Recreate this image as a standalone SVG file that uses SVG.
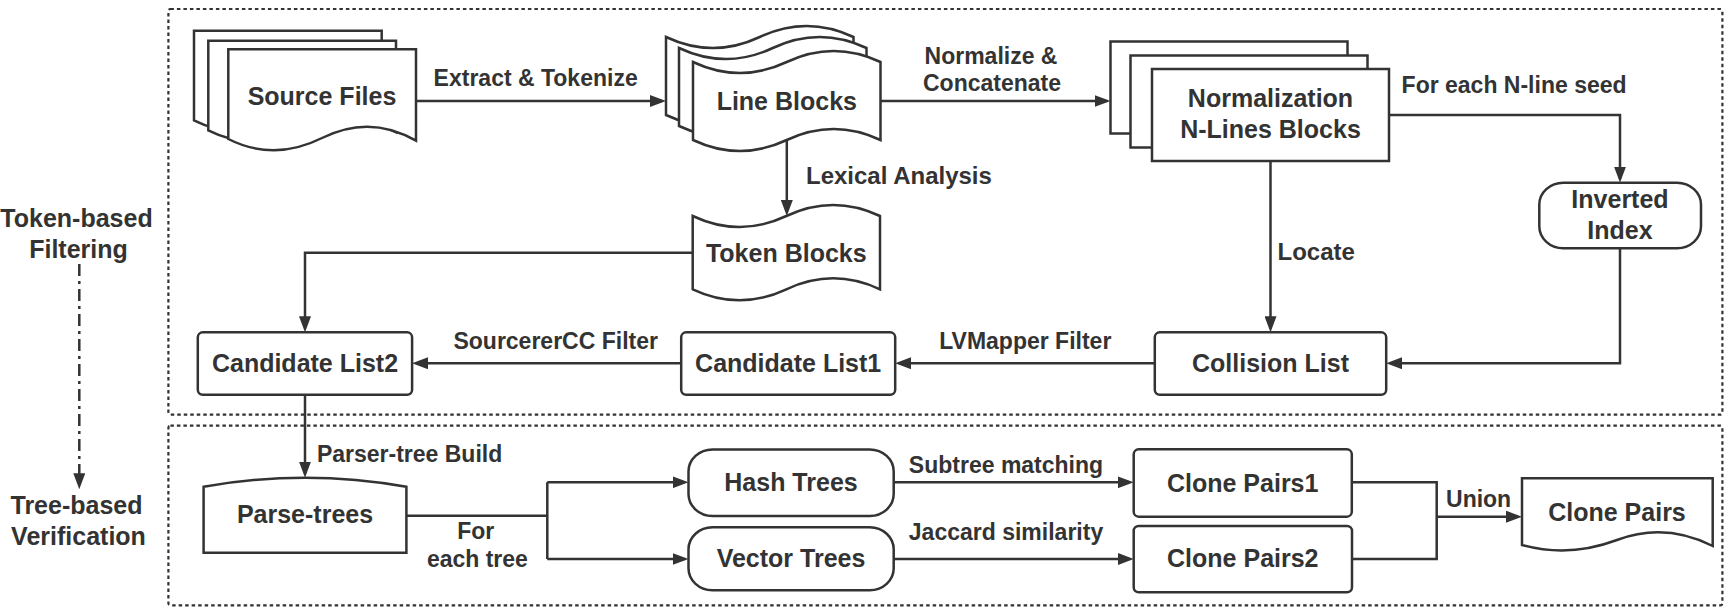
<svg xmlns="http://www.w3.org/2000/svg" width="1726" height="615" viewBox="0 0 1726 615">
<style>
.n{fill:#fff;stroke:#333;stroke-width:2.5;stroke-linejoin:miter}
.t{font-family:"Liberation Sans",Arial,sans-serif;font-weight:bold;font-size:25px;fill:#333;text-anchor:middle}
.e{font-family:"Liberation Sans",Arial,sans-serif;font-weight:bold;font-size:23px;fill:#333}
.m{text-anchor:middle}
.c{fill:none;stroke:#333;stroke-width:2.5}
.a{marker-end:url(#ah)}
.b{fill:none;stroke:#333;stroke-width:2.2;stroke-dasharray:3.5 3}
</style>
<defs>
<marker id="ah" markerUnits="userSpaceOnUse" markerWidth="16" markerHeight="12" refX="12" refY="6" orient="auto" viewBox="0 0 16 12">
<path d="M0,0 L16,6 L0,12 Z" fill="#333"/>
</marker>
</defs>
<rect width="1726" height="615" fill="#fff"/>

<g id="boundaries">
<rect class="b" x="168.4" y="9" width="1554" height="405.7" rx="2"/>
<rect class="b" x="168.4" y="425.7" width="1554" height="179.6" rx="2"/>
</g>

<g id="stage-labels">
<text class="t" x="76.5" y="227">Token-based</text>
<text class="t" x="78.5" y="258">Filtering</text>
<text class="t" x="76.5" y="514.3">Tree-based</text>
<text class="t" x="78.5" y="545">Verification</text>
</g>

<g id="source-files">
<path class="n" transform="translate(-34.3,-18.6)" d="M228.3,49.3 H416 V140.7 Q370,114 322,138 Q274,162 228.3,139 Z"/>
<path class="n" transform="translate(-20,-8.6)" d="M228.3,49.3 H416 V140.7 Q370,114 322,138 Q274,162 228.3,139 Z"/>
<path class="n" d="M228.3,49.3 H416 V140.7 Q370,114 322,138 Q274,162 228.3,139 Z"/>
<text class="t" x="322" y="105">Source Files</text>
</g>

<g id="line-blocks">
<path class="n" transform="translate(-27,-25)" d="M693,62 Q739.9,84 786.75,62 Q833.6,40 880.5,62 V140 Q833.6,118 786.75,140 Q739.9,162 693,140 Z"/>
<path class="n" transform="translate(-14,-14)" d="M693,62 Q739.9,84 786.75,62 Q833.6,40 880.5,62 V140 Q833.6,118 786.75,140 Q739.9,162 693,140 Z"/>
<path class="n" d="M693,62 Q739.9,84 786.75,62 Q833.6,40 880.5,62 V140 Q833.6,118 786.75,140 Q739.9,162 693,140 Z"/>
<text class="t" x="786.8" y="109.5">Line Blocks</text>
</g>

<g id="nlines-blocks">
<rect class="n" x="1110.5" y="41.5" width="237" height="92"/>
<rect class="n" x="1130.5" y="55.5" width="237" height="92"/>
<rect class="n" x="1152" y="69" width="237" height="92"/>
<text class="t" x="1270.5" y="107.3">Normalization</text>
<text class="t" x="1270.5" y="137.7">N-Lines Blocks</text>
</g>

<g id="inverted-index">
<rect class="n" x="1539.3" y="182.7" width="161.7" height="65.6" rx="24" ry="22"/>
<text class="t" x="1620" y="208.3">Inverted</text>
<text class="t" x="1620" y="239.3">Index</text>
</g>

<g id="token-blocks">
<path class="n" d="M692.7,216 Q739.5,238 786.35,216 Q833.2,194 880,216 V289.3 Q833.2,267.3 786.35,289.3 Q739.5,311.3 692.7,289.3 Z"/>
<text class="t" x="786.3" y="261.5">Token Blocks</text>
</g>

<g id="collision-list">
<rect class="n" x="1154.8" y="332.3" width="231.4" height="62.5" rx="5"/>
<text class="t" x="1270.5" y="371.7">Collision List</text>
</g>

<g id="candidate-list1">
<rect class="n" x="681.2" y="332.3" width="214" height="62.5" rx="5"/>
<text class="t" x="788.2" y="371.7">Candidate List1</text>
</g>

<g id="candidate-list2">
<rect class="n" x="197.8" y="332.3" width="214.3" height="62.5" rx="5"/>
<text class="t" x="305" y="371.7">Candidate List2</text>
</g>

<g id="parse-trees">
<path class="n" d="M203.6,552.7 V486.7 Q305,468.7 406.4,486.7 V552.7 Z"/>
<text class="t" x="305" y="523.3">Parse-trees</text>
</g>

<g id="hash-trees">
<rect class="n" x="688.5" y="449.5" width="205.2" height="66.5" rx="24" ry="22"/>
<text class="t" x="791" y="490.7">Hash Trees</text>
</g>

<g id="vector-trees">
<rect class="n" x="688.5" y="527.3" width="205.2" height="63" rx="24" ry="22"/>
<text class="t" x="791" y="566.7">Vector Trees</text>
</g>

<g id="clone-pairs1">
<rect class="n" x="1133.7" y="449.3" width="218.1" height="67.4" rx="5"/>
<text class="t" x="1242.7" y="491.7">Clone Pairs1</text>
</g>

<g id="clone-pairs2">
<rect class="n" x="1133.7" y="526" width="218.3" height="66.3" rx="5"/>
<text class="t" x="1242.8" y="566.7">Clone Pairs2</text>
</g>

<g id="clone-pairs">
<path class="n" d="M1522,478.3 H1712.7 V546 Q1665,522 1617,540 Q1569,558 1522,545 Z"/>
<text class="t" x="1617" y="520.7">Clone Pairs</text>
</g>

<g id="connectors">
<path class="c a" d="M416,101 H662"/>
<path class="c a" d="M880.5,101 H1106.5"/>
<path class="c a" d="M1389,115 H1620 V178.7"/>
<path class="c a" d="M786.8,140 V212"/>
<path class="c a" d="M1270.5,161 V328.3"/>
<path class="c a" d="M1620,248.3 V363.3 H1390.2"/>
<path class="c a" d="M1154.8,363.3 H899.2"/>
<path class="c a" d="M681.2,363.3 H416.1"/>
<path class="c a" d="M692.7,252.7 H305 V328.3"/>
<path class="c a" d="M305,395 V473.7"/>
<path class="c" d="M406.4,515.7 H547.3 M547.3,482.3 V559"/>
<path class="c a" d="M547.3,482.3 H684.5"/>
<path class="c a" d="M547.3,559 H684.5"/>
<path class="c a" d="M893.7,482.3 H1129.7"/>
<path class="c a" d="M893.7,559 H1129.7"/>
<path class="c" d="M1351.8,482.3 H1436.7 V559 H1352"/>
<path class="c a" d="M1436.7,516.7 H1518"/>
<path class="c a" d="M79.3,264 V485.3" stroke-dasharray="12 5 3 5"/>
</g>

<g id="connector-labels">
<text class="e" x="433.6" y="86">Extract &amp; Tokenize</text>
<text class="e m" x="991" y="64">Normalize &amp;</text>
<text class="e m" x="992" y="91">Concatenate</text>
<text class="e" x="1401.6" y="92.7">For each N-line seed</text>
<text class="e" x="806" y="184" style="font-size:24px">Lexical Analysis</text>
<text class="e" x="1277.5" y="260" style="font-size:24px">Locate</text>
<text class="e m" x="555.7" y="349">SourcererCC Filter</text>
<text class="e m" x="1025.3" y="349">LVMapper Filter</text>
<text class="e" x="316.9" y="461.7">Parser-tree Build</text>
<text class="e m" x="475.7" y="539">For</text>
<text class="e m" x="477.4" y="566.7">each tree</text>
<text class="e m" x="1006" y="472.7">Subtree matching</text>
<text class="e m" x="1006" y="540">Jaccard similarity</text>
<text class="e m" x="1478.6" y="506.7">Union</text>
</g>
</svg>
